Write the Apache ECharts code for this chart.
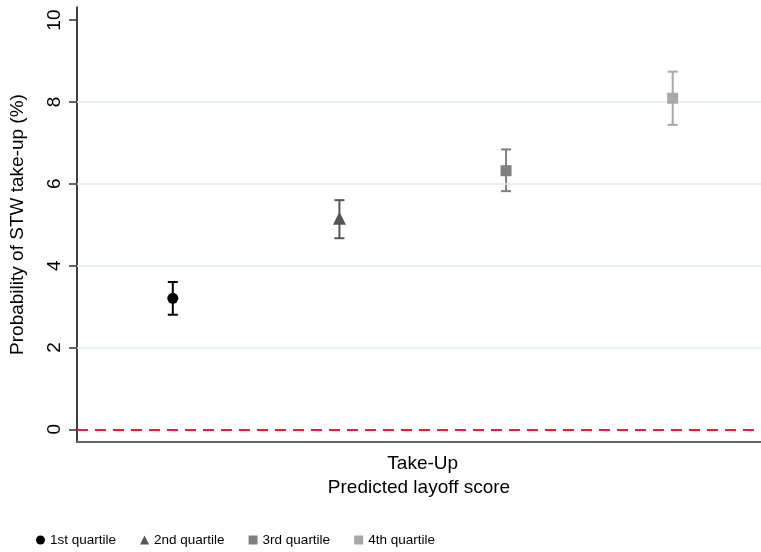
<!DOCTYPE html>
<html>
<head>
<meta charset="utf-8">
<script src="https://cdn.jsdelivr.net/npm/echarts@6/dist/echarts.min.js"></script>
<style>
html,body{margin:0;padding:0;background:#fff;}
#chart{width:761px;height:552px;}
</style>
</head>
<body>
<div id="chart"></div>
<script>
const categories = ['1st quartile', '2nd quartile', '3rd quartile', '4th quartile'];
const positions = [1, 2, 3, 4];
const estimates = [3.2, 5.16, 6.32, 8.09];
const lowerCI = [2.8, 4.67, 5.82, 7.44];
const upperCI = [3.6, 5.6, 6.84, 8.74];
const yTicks = [0, 2, 4, 6, 8, 10];
const gridValues = [2, 4, 6, 8];
const zeroValue = [0];
const xTickValues = [2.5];
const xTickLabels = ['Take-Up'];

const colors = ['#000000', '#555555', '#808080', '#a8a8a8'];
const symbols = ['circle', 'triangle', 'rect', 'rect'];
const symbolSizes = [11, 13, 11, 11];
const FONT = '"Liberation Sans", Arial, sans-serif';

const chart = echarts.init(document.getElementById('chart'), null, {renderer: 'canvas'});

const scatterSeries = categories.map((name, i) => ({
  name: name,
  type: 'scatter',
  symbol: symbols[i],
  symbolSize: symbolSizes[i],
  itemStyle: {color: colors[i], opacity: 1},
  z: 5,
  data: [[positions[i], estimates[i]]]
}));

const errData = categories.map((n, i) => [positions[i], lowerCI[i], upperCI[i], i]);

const option = {
  animation: false,
  backgroundColor: '#ffffff',
  textStyle: {fontFamily: FONT},
  grid: {left: 76, right: 0, top: 7, bottom: 110, containLabel: false},
  legend: {
    data: categories.map((n, i) => ({name: n, icon: symbols[i]})),
    left: 36,
    bottom: 5,
    padding: 0,
    itemWidth: 9,
    itemHeight: 9,
    itemGap: 24,
    textStyle: {fontFamily: FONT, fontSize: 13.5, color: '#000'}
  },
  xAxis: {
    type: 'value',
    min: 0.425,
    max: 4.53,
    name: 'Predicted layoff score',
    nameLocation: 'middle',
    nameGap: 36,
    nameTextStyle: {fontFamily: FONT, fontSize: 19, color: '#000'},
    axisLine: {show: true, onZero: false, lineStyle: {color: '#666', width: 2}},
    axisTick: {show: false},
    splitLine: {show: false},
    axisLabel: {
      customValues: xTickValues,
      formatter: (v) => xTickLabels[xTickValues.indexOf(v)] || '',
      fontFamily: FONT, fontSize: 19, color: '#000', margin: 12
    }
  },
  yAxis: {
    type: 'value',
    min: -0.31,
    max: 10.32,
    name: 'Probability of STW take-up (%)',
    nameLocation: 'middle',
    nameGap: 50,
    nameTextStyle: {fontFamily: FONT, fontSize: 19, color: '#000'},
    axisLine: {show: true, onZero: false, lineStyle: {color: '#000', width: 1.5}},
    axisTick: {show: true, customValues: yTicks, length: 8, lineStyle: {color: '#333', width: 1.5}},
    splitLine: {show: false},
    axisLabel: {
      customValues: yTicks,
      rotate: 90,
      fontFamily: FONT, fontSize: 19, color: '#000', margin: 13
    }
  },
  series: [
    {
      name: 'refLines',
      type: 'line',
      data: [],
      silent: true,
      markLine: {
        silent: true,
        symbol: 'none',
        label: {show: false},
        animation: false,
        data: gridValues.map(v => ({yAxis: v, lineStyle: {color: '#e1eef1', width: 1.5, type: 'solid'}}))
          .concat(zeroValue.map(v => ({yAxis: v, lineStyle: {color: '#e4203d', width: 2, type: [11, 7]}})))
      },
      z: 1
    },
    {
      name: 'errorbars',
      type: 'custom',
      z: 4,
      silent: true,
      renderItem: function (params, api) {
        const x = api.value(0);
        const lo = api.coord([x, api.value(1)]);
        const hi = api.coord([x, api.value(2)]);
        const c = colors[api.value(3)];
        const hw = 5;
        const style = {stroke: c, lineWidth: 2};
        return {
          type: 'group',
          children: [
            {type: 'line', shape: {x1: lo[0], y1: lo[1], x2: hi[0], y2: hi[1]}, style: style},
            {type: 'line', shape: {x1: lo[0] - hw, y1: lo[1], x2: lo[0] + hw, y2: lo[1]}, style: style},
            {type: 'line', shape: {x1: hi[0] - hw, y1: hi[1], x2: hi[0] + hw, y2: hi[1]}, style: style}
          ]
        };
      },
      encode: {x: 0, y: [1, 2]},
      data: errData
    }
  ].concat(scatterSeries)
};

chart.setOption(option);
</script>
</body>
</html>
